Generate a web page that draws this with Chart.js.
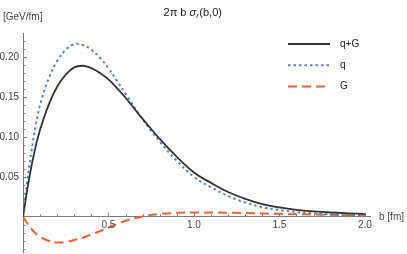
<!DOCTYPE html>
<html>
<head>
<meta charset="utf-8">
<script src="https://cdn.jsdelivr.net/npm/chart.js@4"></script>
<style>
  html, body { margin: 0; padding: 0; background: #fff; }
  #wrap { width: 407px; height: 254px; }
</style>
</head>
<body>
<div id="wrap"><canvas id="myChart" width="407" height="254"></canvas></div>
<script>
// b in fm
var bValues = [0, 0.025, 0.05, 0.075, 0.1, 0.15, 0.2, 0.25, 0.3, 0.35, 0.4, 0.45, 0.5, 0.55, 0.6, 0.7,
               0.8, 0.9, 1.0, 1.1, 1.2, 1.3, 1.4, 1.5, 1.6, 1.7, 1.8, 1.9, 2.0];

// 2 pi b sigma_r(b,0) in GeV/fm
var qG = [0, 0.034, 0.064, 0.089, 0.109, 0.14, 0.163, 0.178, 0.187, 0.189, 0.186, 0.18, 0.172, 0.161, 0.149, 0.1225,
          0.0975, 0.075, 0.0555, 0.0425, 0.031, 0.0225, 0.016, 0.0118, 0.0088, 0.0068, 0.0054, 0.0044, 0.0036];
var q  = [0, 0.044, 0.083, 0.115, 0.14, 0.173, 0.195, 0.209, 0.216, 0.215, 0.209, 0.199, 0.186, 0.17, 0.154, 0.122,
          0.094, 0.07, 0.05, 0.037, 0.026, 0.018, 0.012, 0.0085, 0.006, 0.0042, 0.003, 0.0022, 0.0016];
var G  = [0, -0.008, -0.015, -0.021, -0.025, -0.03, -0.032, -0.0315, -0.029, -0.026, -0.022, -0.018, -0.0135, -0.009, -0.005, 0.0005,
          0.0035, 0.005, 0.0055, 0.0055, 0.0052, 0.0048, 0.0043, 0.0038, 0.0033, 0.0029, 0.0025, 0.0021, 0.0018];

var seriesNames = ["q+G", "q", "G"];

var xTicks = [0.1, 0.2, 0.3, 0.4, 0.5, 0.6, 0.7, 0.8, 0.9, 1.0, 1.1, 1.2, 1.3, 1.4, 1.5, 1.6, 1.7, 1.8, 1.9, 2.0];
var xLabels = [0.5, 1.0, 1.5, 2.0];
var yTicks = [-0.04, -0.03, -0.02, -0.01, 0.01, 0.02, 0.03, 0.04, 0.05, 0.06, 0.07, 0.08, 0.09, 0.1,
              0.11, 0.12, 0.13, 0.14, 0.15, 0.16, 0.17, 0.18, 0.19, 0.2, 0.21, 0.22];
var yLabels = [0.05, 0.1, 0.15, 0.2];

function pts(ys) {
  var out = [];
  for (var i = 0; i < bValues.length; i++) {
    out.push({ x: bValues[i], y: ys[i] });
  }
  return out;
}

function isIn(list, v) {
  for (var i = 0; i < list.length; i++) {
    if (Math.abs(list[i] - v) < 1e-6) return true;
  }
  return false;
}

var axisColor = "#7a7a7a";
var labelColor = "#444";
var font = "Liberation Sans, Arial, sans-serif";

// mathematica-like tick marks, title, axis labels and legend
var extras = {
  id: "extras",
  afterDraw: function(chart) {
    var c = chart.ctx;
    var xs = chart.scales.x;
    var ys = chart.scales.y;
    var x0 = xs.getPixelForValue(0);
    var y0 = ys.getPixelForValue(0);
    c.save();

    // ticks
    c.strokeStyle = axisColor;
    c.lineWidth = 1;
    c.beginPath();
    for (var i = 0; i < xTicks.length; i++) {
      var px = Math.round(xs.getPixelForValue(xTicks[i])) + 0.5;
      var len = isIn(xLabels, xTicks[i]) ? 4 : 2.5;
      c.moveTo(px, y0);
      c.lineTo(px, y0 - len);
    }
    for (var j = 0; j < yTicks.length; j++) {
      var py = Math.round(ys.getPixelForValue(yTicks[j])) + 0.5;
      var l2 = isIn(yLabels, yTicks[j]) ? 4 : 2.5;
      c.moveTo(x0, py);
      c.lineTo(x0 + l2, py);
    }
    c.stroke();

    // tick labels
    c.fillStyle = labelColor;
    c.font = "10px " + font;
    c.textAlign = "center";
    c.textBaseline = "top";
    for (var k = 0; k < xLabels.length; k++) {
      c.fillText(xLabels[k].toFixed(1), xs.getPixelForValue(xLabels[k]), y0 + 3);
    }
    c.textAlign = "right";
    c.textBaseline = "middle";
    for (var m = 0; m < yLabels.length; m++) {
      c.fillText(yLabels[m].toFixed(2), x0 - 4, ys.getPixelForValue(yLabels[m]));
    }

    // axis labels
    c.textAlign = "left";
    c.fillText("[GeV/fm]", 3, 17);
    c.fillText("b [fm]", chart.chartArea.right + 9, y0);

    // title: 2π b σ_r(b,0)
    c.font = "11px " + font;
    var p1 = "2\u03c0 b ";
    var p2 = "\u03c3";
    var p3 = "r";
    var p4 = "(b,0)";
    var w1 = c.measureText(p1).width;
    c.font = "italic 11px " + font;
    var w2 = c.measureText(p2).width;
    c.font = "italic 8px " + font;
    var w3 = c.measureText(p3).width;
    c.font = "11px " + font;
    var w4 = c.measureText(p4).width;
    var tx = (chart.chartArea.left + chart.chartArea.right) / 2 - (w1 + w2 + w3 + w4) / 2 - 4;
    var ty = 13;
    c.fillStyle = "#222";
    c.fillText(p1, tx, ty);
    c.font = "italic 11px " + font;
    c.fillText(p2, tx + w1, ty);
    c.font = "italic 8px " + font;
    c.fillText(p3, tx + w1 + w2, ty + 3);
    c.font = "11px " + font;
    c.fillText(p4, tx + w1 + w2 + w3 + 0.5, ty);

    // legend
    var lx = 288, lw = 42, lyStart = 44, lyStep = 21.3;
    c.font = "10px " + font;
    c.fillStyle = "#222";
    for (var d = 0; d < chart.data.datasets.length; d++) {
      var ds = chart.data.datasets[d];
      var ly = lyStart + d * lyStep;
      c.strokeStyle = ds.borderColor;
      c.lineWidth = ds.borderWidth;
      c.setLineDash(ds.borderDash || []);
      c.beginPath();
      c.moveTo(lx, ly);
      c.lineTo(lx + lw, ly);
      c.stroke();
      c.setLineDash([]);
      c.fillText(ds.label, lx + lw + 10, ly);
    }
    c.restore();
  }
};

var ctx = document.getElementById("myChart").getContext("2d");
var myChart = new Chart(ctx, {
  type: "line",
  data: {
    datasets: [
      {
        label: seriesNames[0],
        data: pts(qG),
        borderColor: "#333333",
        borderWidth: 1.8,
        pointRadius: 0,
        tension: 0.4,
        fill: false
      },
      {
        label: seriesNames[1],
        data: pts(q),
        borderColor: "#5e81b5",
        borderWidth: 2,
        borderDash: [2.5, 3],
        pointRadius: 0,
        tension: 0.4,
        fill: false
      },
      {
        label: seriesNames[2],
        data: pts(G),
        borderColor: "#eb6235",
        borderWidth: 2,
        borderDash: [9, 5],
        pointRadius: 0,
        tension: 0.4,
        fill: false
      }
    ]
  },
  options: {
    responsive: false,
    animation: false,
    layout: { padding: { left: 23, right: 37, top: 33, bottom: 2 } },
    plugins: {
      legend: { display: false },
      tooltip: { enabled: false },
      title: { display: false }
    },
    scales: {
      x: {
        type: "linear",
        min: 0,
        max: 2.03,
        position: { y: 0 },
        grid: { display: false },
        border: { display: true, color: axisColor, width: 1 },
        ticks: { display: false }
      },
      y: {
        type: "linear",
        min: -0.044,
        max: 0.23,
        position: { x: 0 },
        grid: { display: false },
        border: { display: true, color: axisColor, width: 1 },
        ticks: { display: false }
      }
    }
  },
  plugins: [extras]
});
</script>
</body>
</html>
